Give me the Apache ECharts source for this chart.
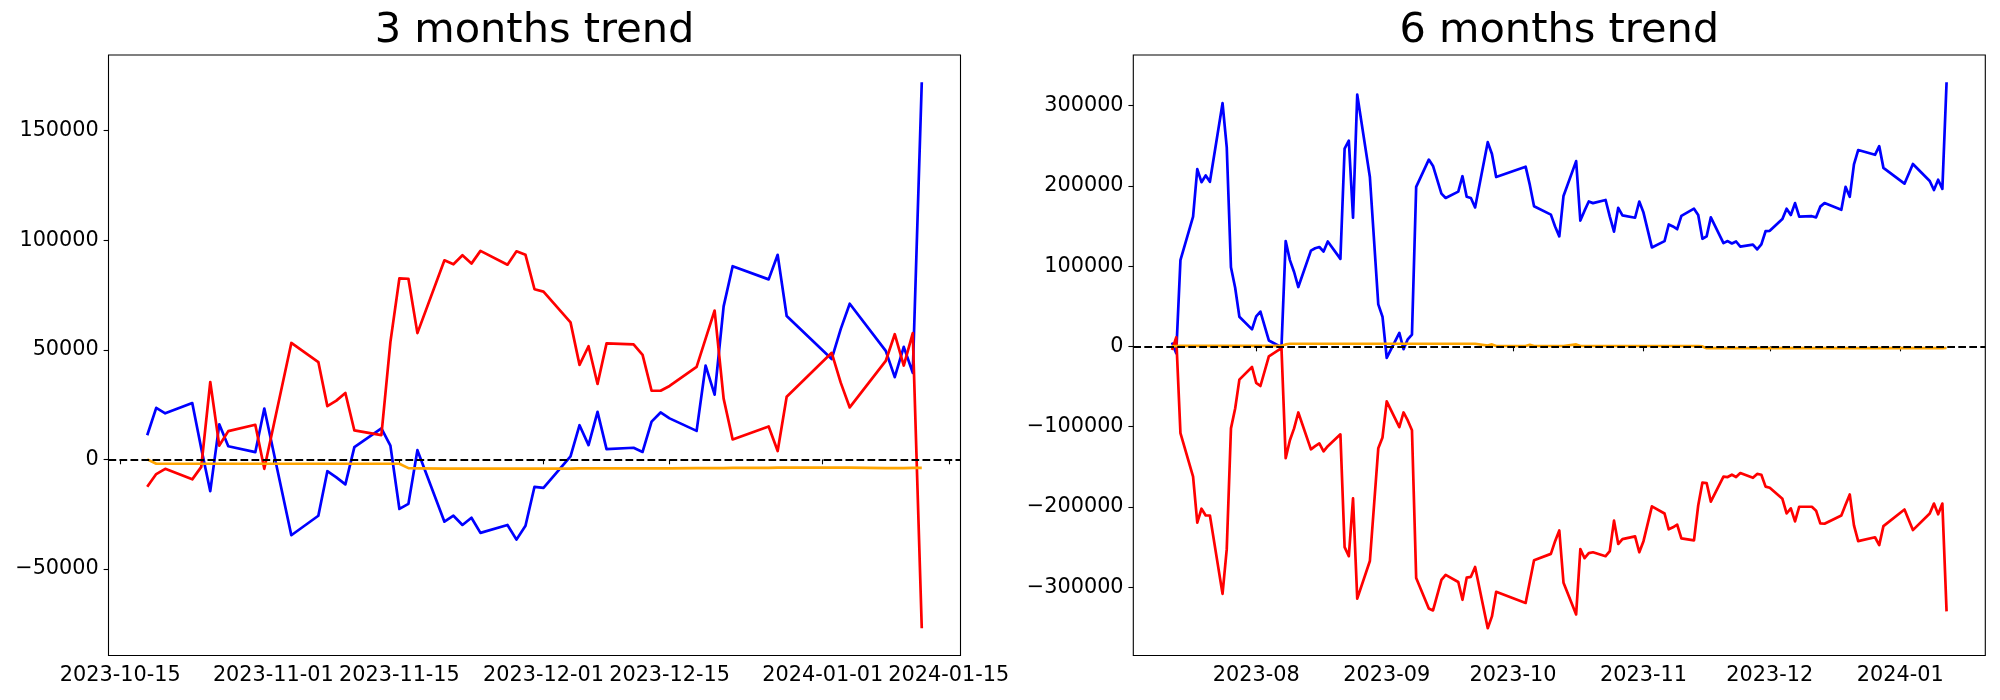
<!DOCTYPE html>
<html><head><meta charset="utf-8">
<script src="https://cdn.jsdelivr.net/npm/echarts@6/dist/echarts.min.js"></script>
<style>html,body{margin:0;padding:0;background:#fff}#c{width:2000px;height:700px}</style>
</head><body><div id="c"></div>
<script>
// ---------- 3 months trend ----------
const dates3 = ['2023-10-18','2023-10-19','2023-10-20','2023-10-23','2023-10-24','2023-10-25','2023-10-26','2023-10-27','2023-10-30','2023-10-31',
  '2023-11-03','2023-11-06','2023-11-07','2023-11-08','2023-11-09','2023-11-10','2023-11-13','2023-11-14','2023-11-15','2023-11-16',
  '2023-11-17','2023-11-20','2023-11-21','2023-11-22','2023-11-23','2023-11-24','2023-11-27','2023-11-28','2023-11-29','2023-11-30',
  '2023-12-01','2023-12-04','2023-12-05','2023-12-06','2023-12-07','2023-12-08','2023-12-11','2023-12-12','2023-12-13','2023-12-14',
  '2023-12-15','2023-12-18','2023-12-19','2023-12-20','2023-12-21','2023-12-22','2023-12-26','2023-12-27','2023-12-28','2024-01-02',
  '2024-01-03','2024-01-04','2024-01-08','2024-01-09','2024-01-10','2024-01-11','2024-01-12'];
const blue3 = [11000,23500,21000,25700,5000,-14500,16000,6000,3300,23200,
  -34600,-25700,-5400,-8200,-11400,5600,14100,6300,-22600,-20300,
  4200,-28400,-25700,-29900,-26600,-33500,-29900,-36600,-30300,-12500,
  -13000,1400,15600,6500,21700,4700,5300,3400,17200,21400,
  18700,13000,42800,29500,69800,88100,82100,93300,65400,45800,
  59400,71000,49500,37500,51300,39500,172000];
const red3 = [-12500,-6700,-4300,-9100,-3400,35300,6300,12900,15800,-4300,
  53100,44400,24300,26800,30300,13200,11100,53500,82600,82400,
  57600,90800,89000,93100,89300,95100,88800,94900,93300,77600,
  76500,62500,43100,51600,34400,52900,52500,47700,31300,31300,
  33500,42200,55100,67900,27700,9100,15000,3800,28600,48600,
  35000,23700,44900,57100,42800,57600,-77000];
const orange3 = [0,-2000,-2000,-2000,-2000,-2000,-2000,-2000,-2000,-2000,
  -2000,-2000,-2000,-2000,-2000,-2000,-2000,-2000,-2000,-4000,
  -4100,-4200,-4200,-4200,-4200,-4200,-4200,-4200,-4200,-4200,
  -4200,-4200,-4100,-4100,-4100,-4100,-4100,-4100,-4100,-4100,
  -4100,-4000,-4000,-4000,-4000,-3900,-3900,-3800,-3800,-3800,
  -3800,-3800,-4000,-4000,-4000,-3900,-3900];
const xTicks3 = ['2023-10-15','2023-11-01','2023-11-15','2023-12-01','2023-12-15','2024-01-01','2024-01-15'];
const yTicks3 = [-50000,0,50000,100000,150000];

// ---------- 6 months trend ----------
const dates6 = ['2023-07-12','2023-07-13','2023-07-14','2023-07-17','2023-07-18','2023-07-19','2023-07-20','2023-07-21','2023-07-24','2023-07-25',
  '2023-07-26','2023-07-27','2023-07-28','2023-07-31','2023-08-01','2023-08-02','2023-08-04','2023-08-07','2023-08-08','2023-08-09',
  '2023-08-10','2023-08-11','2023-08-14','2023-08-15','2023-08-16','2023-08-17','2023-08-18','2023-08-21','2023-08-22','2023-08-23',
  '2023-08-24','2023-08-25','2023-08-28','2023-08-30','2023-08-31','2023-09-01','2023-09-04','2023-09-05','2023-09-06','2023-09-07',
  '2023-09-08','2023-09-11','2023-09-12','2023-09-14','2023-09-15','2023-09-18','2023-09-19','2023-09-20','2023-09-21','2023-09-22',
  '2023-09-25','2023-09-26','2023-09-27','2023-10-04','2023-10-05','2023-10-06','2023-10-10','2023-10-11','2023-10-12','2023-10-13',
  '2023-10-16','2023-10-17','2023-10-18','2023-10-19','2023-10-20','2023-10-23','2023-10-24','2023-10-25','2023-10-26','2023-10-27',
  '2023-10-30','2023-10-31','2023-11-01','2023-11-03','2023-11-06','2023-11-07','2023-11-08','2023-11-09','2023-11-10','2023-11-13',
  '2023-11-14','2023-11-15','2023-11-16','2023-11-17','2023-11-20','2023-11-21','2023-11-22','2023-11-23','2023-11-24','2023-11-27',
  '2023-11-28','2023-11-29','2023-11-30','2023-12-01','2023-12-04','2023-12-05','2023-12-06','2023-12-07','2023-12-08','2023-12-11',
  '2023-12-12','2023-12-13','2023-12-14','2023-12-18','2023-12-19','2023-12-20','2023-12-21','2023-12-22','2023-12-26','2023-12-27',
  '2023-12-28','2024-01-02','2024-01-04','2024-01-08','2024-01-09','2024-01-10','2024-01-11','2024-01-12'];
const blue6 = [5000,-8400,107500,161700,220900,204600,213000,205100,303000,248000,
  98600,73000,37000,21200,37500,43400,7400,-1000,131200,107500,
  92700,74000,119300,122300,123800,118300,130700,109000,246500,256400,
  160300,313600,211000,52300,37000,-14300,16800,-3500,8900,14800,
  198700,232700,224800,190300,184900,192800,212000,186400,184900,173100,
  254400,239600,211000,223900,201200,174600,164200,149400,137100,187400,
  230800,156800,169100,180500,178500,182400,161700,143000,172600,163200,
  160300,180500,166700,123300,131200,151900,149400,146000,162700,171600,
  163700,134100,137100,160800,128700,131200,128200,130700,124300,126700,
  120800,127200,143500,144000,158800,171600,163700,178500,161700,162200,
  160800,174100,178500,170100,198700,186400,226800,244600,238700,249500,
  222400,202700,227300,206100,194800,207600,196300,329000];
const red6 = [-4400,11300,-108000,-162200,-219400,-202200,-210600,-210600,-308200,-252500,
  -102100,-77400,-41400,-25600,-45400,-49300,-12300,-2000,-139100,-116900,
  -102100,-82300,-128200,-124300,-120800,-130700,-124300,-109500,-250000,-261300,
  -189400,-314100,-267300,-126700,-113400,-68500,-100600,-82300,-92200,-104500,
  -288500,-326400,-328900,-290900,-284500,-293400,-315600,-288000,-287000,-274700,
  -351000,-336300,-305700,-319500,-292900,-266300,-258400,-242600,-229300,-294400,
  -333800,-252500,-263800,-257400,-256400,-261300,-254900,-217000,-246100,-240100,
  -236700,-256400,-242600,-199200,-208100,-227800,-225300,-221900,-239200,-241600,
  -198200,-169600,-170100,-193300,-162200,-162700,-159800,-162700,-157800,-163700,
  -158800,-159800,-174600,-176000,-189800,-208100,-201700,-218000,-199700,-199700,
  -204600,-220400,-220900,-210600,-197200,-184400,-222900,-242600,-237700,-247500,
  -223900,-203200,-228800,-208100,-195800,-209100,-195800,-330000];
const orange6 = [0,500,800,800,800,800,800,800,800,800,
  800,800,800,800,800,800,800,800,2500,3300,
  3300,3300,3300,3300,3300,3300,3300,3300,3300,3300,
  3300,3300,3300,3300,3300,3300,3300,3300,3300,3300,
  3300,3300,3300,3300,3300,3300,3300,3300,3300,3300,
  1000,2500,500,500,2000,500,500,500,500,500,
  2500,500,500,500,500,500,500,500,500,500,
  500,500,500,500,500,500,500,500,500,500,
  500,0,-2200,-2200,-2200,-2200,-2200,-2200,-2200,-2200,
  -2200,-2200,-2200,-2200,-2200,-2200,-2200,-2200,-2200,-2200,
  -2200,-2200,-2200,-2200,-2200,-2200,-2200,-2200,-2200,-2200,
  -2200,-2200,-2200,-2200,-2200,-2200,-2200,-2000];
const xTicks6 = ['2023-08-01','2023-09-01','2023-10-01','2023-11-01','2023-12-01','2024-01-01'];
const yTicks6 = [-300000,-200000,-100000,0,100000,200000,300000];

// ---------- helpers ----------
function ts(s){const p=s.split('-').map(Number);return new Date(p[0],p[1]-1,p[2]).getTime();}
function pad(n){return (n<10?'0':'')+n;}
function fmtDay(v){const d=new Date(v);return d.getFullYear()+'-'+pad(d.getMonth()+1)+'-'+pad(d.getDate());}
function fmtMonth(v){const d=new Date(v);return d.getFullYear()+'-'+pad(d.getMonth()+1);}
function fmtNum(v){return v<0?'\u2212'+Math.abs(v):String(v);}
function ext(arrs){let lo=Infinity,hi=-Infinity;arrs.forEach(a=>a.forEach(v=>{if(v<lo)lo=v;if(v>hi)hi=v;}));const m=(hi-lo)*0.05;return [lo-m,hi+m];}

const FONT='DejaVu Sans';
const TICK=20.8;
const G=[{left:108.5,top:55,width:852,height:600.5},{left:1133.3,top:55,width:852,height:600.5}];

function xAxisCfg(idx,dates,ticks,fmt){
  const t=dates.map(ts);const e=ext([t]);
  return {type:'value',gridIndex:idx,min:e[0],max:e[1],
    axisLine:{show:false},splitLine:{show:false},
    axisTick:{show:true,inside:false,length:4.9,lineStyle:{color:'#000',width:1.1},customValues:ticks.map(ts)},
    axisLabel:{show:true,margin:9.7,color:'#000',fontFamily:FONT,fontSize:TICK,customValues:ticks.map(ts),formatter:fmt,hideOverlap:false}};
}
function yAxisCfg(idx,series,ticks){
  const e=ext(series);
  return {type:'value',gridIndex:idx,min:e[0],max:e[1],
    axisLine:{show:false},splitLine:{show:false},
    axisTick:{show:true,inside:false,length:4.9,lineStyle:{color:'#000',width:1.1},customValues:ticks},
    axisLabel:{show:true,margin:9.7,color:'#000',fontFamily:FONT,fontSize:TICK,customValues:ticks,formatter:fmtNum}};
}
function lineSeries(idx,dates,vals,color,withZero){
  const s={type:'line',xAxisIndex:idx,yAxisIndex:idx,data:dates.map((d,i)=>[ts(d),vals[i]]),
    showSymbol:false,symbol:'none',animation:false,silent:true,
    lineStyle:{color:color,width:2.7,join:'round',cap:'butt'}};
  if(withZero){
    s.markLine={silent:true,symbol:'none',animation:false,label:{show:false},
      lineStyle:{color:'#000',width:2.1,type:[7.7,3.3]},data:[{yAxis:0}]};
  }
  return s;
}

const chart=echarts.init(document.getElementById('c'),null,{renderer:'canvas'});
chart.setOption({
  backgroundColor:'#fff',
  animation:false,
  grid:G.map(g=>Object.assign({show:true,borderColor:'#000',borderWidth:1.1,backgroundColor:'transparent',containLabel:false},g)),
  graphic:[
    {type:'text',x:534.5,y:31.5,style:{text:'3 months trend',fontFamily:FONT,fontSize:41.5,fill:'#000',textAlign:'center',textVerticalAlign:'middle'}},
    {type:'text',x:1559.3,y:31.5,style:{text:'6 months trend',fontFamily:FONT,fontSize:41.5,fill:'#000',textAlign:'center',textVerticalAlign:'middle'}}
  ],
  xAxis:[xAxisCfg(0,dates3,xTicks3,fmtDay),xAxisCfg(1,dates6,xTicks6,fmtMonth)],
  yAxis:[yAxisCfg(0,[blue3,red3,orange3],yTicks3),yAxisCfg(1,[blue6,red6,orange6],yTicks6)],
  series:[
    lineSeries(0,dates3,blue3,'#0000ff',false),
    lineSeries(0,dates3,red3,'#ff0000',false),
    lineSeries(0,dates3,orange3,'#ffa500',true),
    lineSeries(1,dates6,blue6,'#0000ff',false),
    lineSeries(1,dates6,red6,'#ff0000',false),
    lineSeries(1,dates6,orange6,'#ffa500',true)
  ]
});
</script></body></html>
